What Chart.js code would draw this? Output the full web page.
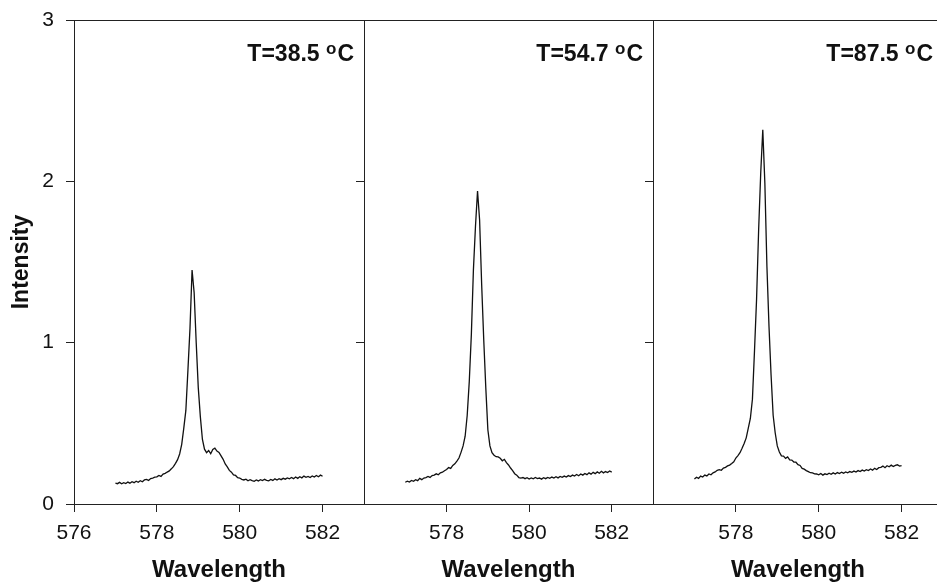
<!DOCTYPE html>
<html>
<head>
<meta charset="utf-8">
<style>
  body { margin:0; background:#fff; overflow:hidden; width:937px; height:582px; position:relative; }
  canvas { position:absolute; top:0; }
</style>
</head>
<body>
<canvas id="_c1" width="372" height="582" style="left:0px"></canvas>
<canvas id="_c2" width="307" height="582" style="left:354px"></canvas>
<canvas id="_c3" width="308" height="582" style="left:643px"></canvas>

<script src="https://cdn.jsdelivr.net/npm/chart.js"></script>
<script>
// wavelength grid (nm), shared by the three spectra
var wavelength = [
	577.00,577.05,577.10,577.15,577.20,577.25,577.30,577.35,577.40,577.45,
	577.50,577.55,577.60,577.65,577.70,577.75,577.80,577.85,577.90,577.95,
	578.00,578.05,578.10,578.15,578.20,578.25,578.30,578.35,578.40,578.45,
	578.50,578.55,578.60,578.65,578.70,578.75,578.80,578.85,578.90,578.95,
	579.00,579.05,579.10,579.15,579.20,579.25,579.30,579.35,579.40,579.45,
	579.50,579.55,579.60,579.65,579.70,579.75,579.80,579.85,579.90,579.95,
	580.00,580.05,580.10,580.15,580.20,580.25,580.30,580.35,580.40,580.45,
	580.50,580.55,580.60,580.65,580.70,580.75,580.80,580.85,580.90,580.95,
	581.00,581.05,581.10,581.15,581.20,581.25,581.30,581.35,581.40,581.45,
	581.50,581.55,581.60,581.65,581.70,581.75,581.80,581.85,581.90,581.95,
	582.00
];

// T = 38.5 oC
var int385 = [
	0.130,0.126,0.134,0.125,0.132,0.127,0.136,0.129,0.138,0.132,
	0.141,0.135,0.144,0.138,0.149,0.152,0.146,0.158,0.161,0.166,
	0.168,0.177,0.171,0.185,0.190,0.198,0.205,0.218,0.232,0.252,
	0.275,0.310,0.370,0.470,0.580,0.830,1.090,1.450,1.310,1.000,
	0.720,0.540,0.400,0.340,0.318,0.332,0.312,0.338,0.346,0.328,
	0.320,0.298,0.277,0.248,0.230,0.208,0.197,0.180,0.177,0.163,
	0.161,0.153,0.149,0.154,0.144,0.151,0.145,0.141,0.149,0.143,
	0.151,0.145,0.153,0.147,0.144,0.152,0.146,0.156,0.149,0.157,
	0.151,0.159,0.154,0.162,0.156,0.164,0.157,0.167,0.159,0.169,
	0.162,0.173,0.165,0.171,0.164,0.174,0.167,0.177,0.169,0.179,
	0.172
];

// T = 54.7 oC
var int547 = [
	0.135,0.141,0.136,0.146,0.141,0.151,0.145,0.159,0.151,0.161,
	0.164,0.171,0.165,0.176,0.179,0.187,0.181,0.193,0.197,0.206,
	0.214,0.226,0.221,0.239,0.249,0.266,0.285,0.320,0.360,0.420,
	0.550,0.760,1.050,1.450,1.720,1.940,1.760,1.360,1.020,0.720,
	0.460,0.360,0.318,0.302,0.293,0.292,0.283,0.268,0.277,0.256,
	0.242,0.223,0.207,0.188,0.179,0.164,0.161,0.164,0.157,0.163,
	0.155,0.162,0.156,0.164,0.157,0.161,0.154,0.163,0.157,0.165,
	0.159,0.167,0.161,0.169,0.162,0.171,0.165,0.173,0.167,0.176,
	0.170,0.179,0.173,0.183,0.175,0.186,0.179,0.189,0.182,0.193,
	0.185,0.196,0.188,0.199,0.191,0.203,0.193,0.201,0.195,0.205,
	0.198
];

// T = 87.5 oC
var int875 = [
	0.155,0.166,0.159,0.173,0.167,0.179,0.174,0.186,0.181,0.193,
	0.199,0.209,0.213,0.209,0.223,0.227,0.236,0.241,0.251,0.262,
	0.285,0.300,0.318,0.345,0.375,0.410,0.470,0.530,0.650,0.950,
	1.270,1.700,2.050,2.320,1.990,1.470,1.100,0.800,0.550,0.440,
	0.360,0.322,0.298,0.297,0.283,0.292,0.273,0.272,0.260,0.259,
	0.244,0.239,0.221,0.216,0.207,0.201,0.194,0.193,0.187,0.186,
	0.181,0.189,0.179,0.187,0.182,0.191,0.184,0.193,0.186,0.195,
	0.189,0.197,0.191,0.199,0.193,0.201,0.196,0.204,0.198,0.207,
	0.201,0.210,0.204,0.213,0.207,0.217,0.210,0.221,0.214,0.225,
	0.227,0.235,0.225,0.237,0.231,0.241,0.232,0.239,0.243,0.235,
	0.238
];

var temps = ['38.5', '54.7', '87.5'];
var xTicksFirst = [576, 578, 580, 582];
var xTicksOther = [578, 580, 582];
var yTicks = [0, 1, 2, 3];

var FONT = '"Liberation Sans", Arial, sans-serif';
var INK = '#111';

// frame round the plot area + the temperature label in the top right corner
var panelDeco = {
	id: 'panelDeco',
	afterDraw(chart, args, opts) {
		var ctx = chart.ctx, a = chart.chartArea;
		ctx.save();
		ctx.strokeStyle = '#222';
		ctx.lineWidth = 1;
		ctx.strokeRect(Math.round(a.left) + 0.5, Math.round(a.top) + 0.5,
			Math.round(a.right - a.left), Math.round(a.bottom - a.top));

		ctx.fillStyle = INK;
		ctx.textAlign = 'right';
		ctx.textBaseline = 'alphabetic';
		var x = a.right - 10, y = 61;
		ctx.font = 'bold 23px ' + FONT;
		ctx.fillText('C', x, y);
		x -= ctx.measureText('C').width + 1;
		ctx.font = 'bold 17px ' + FONT;
		ctx.fillText('o', x, y - 7);
		x -= ctx.measureText('o').width;
		ctx.font = 'bold 23px ' + FONT;
		ctx.fillText('T=' + opts.temp + ' ', x, y);
		ctx.restore();
	}
};

function makePanel(canvas, values, temp, first) {
	var xt = first ? xTicksFirst : xTicksOther;
	return new Chart(canvas, {
		type: 'line',
		data: {
			datasets: [{
				data: wavelength.map((w, i) => ({ x: w, y: values[i] })),
				borderColor: INK,
				borderWidth: 1.3,
				pointRadius: 0,
				tension: 0,
				fill: false
			}]
		},
		options: {
			responsive: false,
			animation: false,
			devicePixelRatio: 1,
			layout: { padding: { top: 20, right: 8, left: 0, bottom: 0 } },
			plugins: {
				legend: { display: false },
				tooltip: { enabled: false },
				panelDeco: { temp: temp }
			},
			scales: {
				x: {
					type: 'linear',
					min: 576,
					max: 583,
					afterBuildTicks: s => { s.ticks = xt.map(v => ({ value: v })); },
					afterFit: s => { s.height = 78; s.paddingLeft = 0; s.paddingRight = 0; },
					grid: { drawOnChartArea: false, drawTicks: true, tickLength: 8, color: '#222' },
					border: { color: '#222' },
					ticks: { color: INK, font: { family: FONT, size: 21 }, padding: 9, maxRotation: 0 },
					title: {
						display: true,
						text: 'Wavelength',
						color: INK,
						font: { family: FONT, size: 24, weight: 'bold' },
						padding: { top: 0, bottom: -3 }
					}
				},
				y: {
					min: 0,
					max: 3,
					afterBuildTicks: s => { s.ticks = yTicks.map(v => ({ value: v })); },
					afterFit: s => { s.width = first ? 74 : 10; s.paddingTop = 0; s.paddingBottom = 0; },
					grid: { drawOnChartArea: false, drawTicks: true, tickLength: 8, color: '#222' },
					border: { color: '#222' },
					ticks: { display: first, color: INK, font: { family: FONT, size: 21 }, padding: 12 },
					title: {
						display: first,
						text: 'Intensity',
						color: INK,
						font: { family: FONT, size: 23, weight: 'bold' },
						padding: { top: 8, bottom: 0 }
					}
				}
			}
		},
		plugins: [panelDeco]
	});
}

makePanel(_c1, int385, temps[0], true);
makePanel(_c2, int547, temps[1], false);
makePanel(_c3, int875, temps[2], false);
</script>
</body>
</html>
